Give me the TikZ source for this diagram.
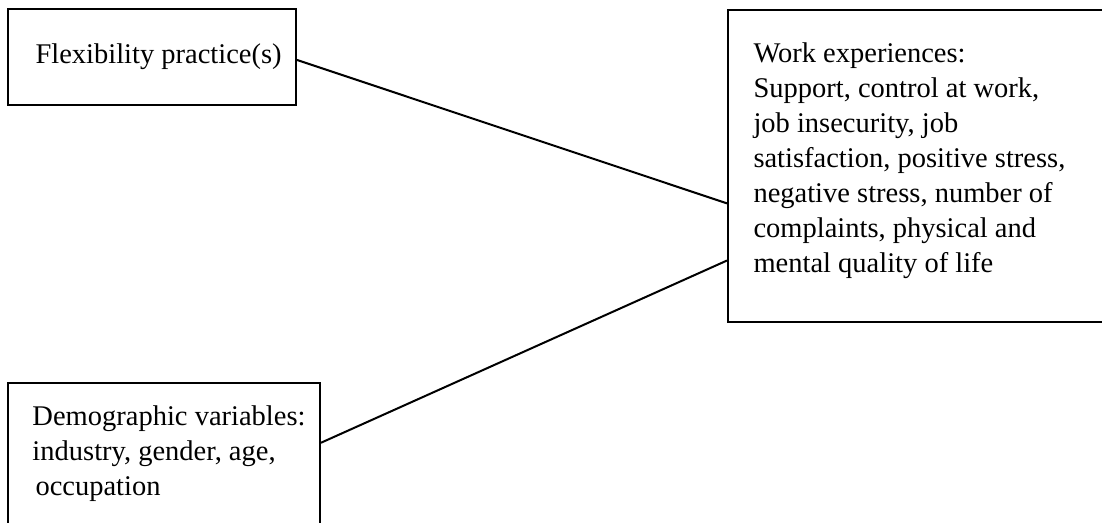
\documentclass[tikz,border=0pt]{standalone}
\usepackage{fontspec}
\setmainfont{Liberation Serif}
\usetikzlibrary{calc}
\begin{document}
\begin{tikzpicture}[x=0.4pt,y=-0.4pt,
  box/.style={draw,line width=0.8pt,rectangle,inner sep=0pt},
  conn/.style={line width=0.8pt},
  txt/.style={anchor=base west,inner sep=0pt,font=\fontsize{11.4}{14}\selectfont,align=left}]
\clip (0,0) rectangle (1102,522);
\fill[white] (0,0) rectangle (1102,522);
\node[box,minimum width=115.2pt,minimum height=38.4pt] (b1) at (152,57) {};
\node[box,minimum width=152.8pt,minimum height=124.8pt] (b2) at (919,166) {};
\node[box,minimum width=124.8pt,minimum height=62.8pt] (b3) at (164,461.5) {};
\node[txt] (t1) at (35,63) {Flexibility practice(s)};
\node[txt] (t2) at (753,272) {Work experiences:\\Support, control at work,\\job insecurity, job\\satisfaction, positive stress,\\negative stress, number of\\complaints, physical and\\mental quality of life};
\node[txt] (t3) at (32,495) {Demographic variables:\\industry, gender, age,\\\hspace{1.2pt}occupation};
\draw[conn] ($(b1.north east)!0.53!(b1.south east)$) -- ($(b2.north west)!0.619!(b2.south west)$);
\draw[conn] ($(b3.north west)!0.382!(b3.south west)-(b3.north west)+(b3.north east)$) -- ($(b2.north west)!0.801!(b2.south west)$);
\end{tikzpicture}
\end{document}
